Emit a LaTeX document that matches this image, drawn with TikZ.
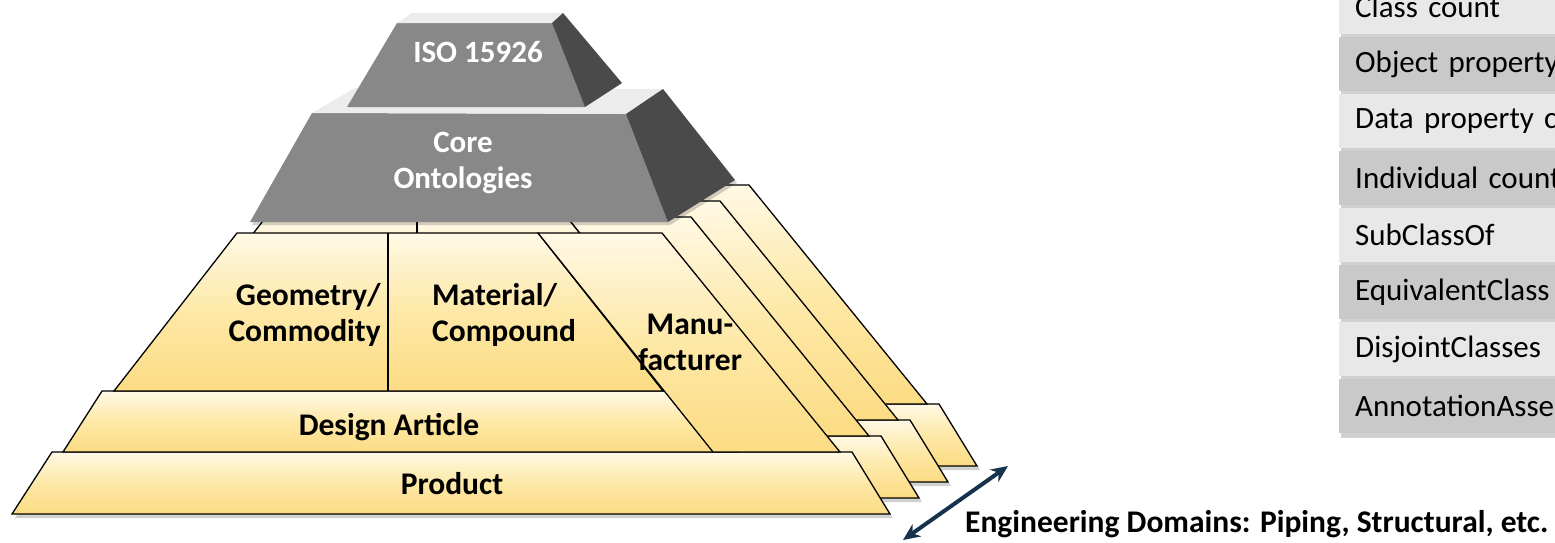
\documentclass[tikz,border=0pt]{standalone}
\usepackage{fontspec}
\setmainfont{Carlito}
\usepackage{tikz}
\usetikzlibrary{arrows.meta}
\definecolor{creamtop}{HTML}{FFF9E6}
\definecolor{creammid}{HTML}{FDE8A6}
\definecolor{goldbot}{HTML}{FCDC84}
\definecolor{grayfront}{HTML}{888888}
\definecolor{grayside}{HTML}{4A4A4A}
\definecolor{graytop}{HTML}{ECECEC}
\definecolor{rowlight}{HTML}{E8E8E8}
\definecolor{rowdark}{HTML}{C9C9C9}
\definecolor{navy}{HTML}{17324D}

\begin{document}
\begin{tikzpicture}[x=1pt,y=-1pt,
  every node/.style={font=\fontsize{31.5}{36}\selectfont\bfseries,align=center,inner sep=0pt},
  slab/.style={draw=black,line width=1.3pt,top color=creamtop,bottom color=goldbot,middle color=creammid},
  castshadow/.style={fill=black,opacity=0.18},
  facet/.style={fill=#1},
  onto/.style={text=white,font=\fontsize{31}{36}\selectfont\bfseries},
  rowbox/.style={fill=#1,anchor=north west,minimum width=262pt,minimum height=54pt,text width=230pt,align=left,inner xsep=16pt,font=\fontsize{31}{36}\selectfont},
  arr/.style={{Stealth[length=17pt,width=15pt]}-{Stealth[length=17pt,width=15pt]},draw=navy,line width=4pt}]
\useasboundingbox (0,0) rectangle (1555,542);

\foreach \k in {3,2,1,0}{
  \begin{scope}[shift={(29*\k,-16*\k)}]
    \fill[castshadow,shift={(3,4)}] (12,514) -- (52,452) -- (63,452) -- (102,391) -- (114,391) -- (237,233) -- (662,233) -- (840,452) -- (852,452) -- (890,514) -- cycle;
    \draw[slab] (12,514) -- (52,452) -- (852,452) -- (890,514) -- cycle;
    \draw[slab] (63,452) -- (102,391) -- (700,391) -- (738,452) -- cycle;
    \draw[slab] (114,391) -- (237,233) -- (538,233) -- (663,391) -- cycle;
    \draw[line width=1.3pt] (388,233) -- (388,391);
    \draw[slab] (538,233) -- (662,233) -- (840,452) -- (713,452) -- cycle;
  \end{scope}
}

\fill[castshadow,shift={(2,3)}] (250,222) -- (312,113) -- (663,89) -- (735,180) -- (668,222) -- cycle;
\fill[facet=grayfront] (250,222) -- (312,113) -- (626,114) -- (668,222) -- cycle;
\fill[facet=graytop] (312,113) -- (355,88) -- (663,89) -- (626,114) -- cycle;
\fill[facet=grayside] (626,114) -- (663,89) -- (735,180) -- (668,222) -- cycle;
\fill[facet=grayfront] (347,107) -- (397,23) -- (552,23) -- (585,107) -- cycle;
\fill[facet=graytop] (397,23) -- (412,13) -- (563,13) -- (552,23) -- cycle;
\fill[facet=grayside] (552,23) -- (563,13) -- (622,83) -- (585,107) -- cycle;

\node[onto] (iso) at (478,52) {ISO 15926};
\node[onto] (core) at (463,163) {Core\\Ontologies};
\node[anchor=east,align=right] (geo) at (381,315) {Geometry/\\Commodity};
\node[anchor=west,align=left] (mat) at (432,315) {Material/\\Compound};
\node (manu) at (690,342) {Manu-\\facturer};
\node (design) at (389,427) {Design Article};
\node (product) at (452,484) {Product};
\node[anchor=base west] (domains) at (965,532) {Engineering Domains: Piping, Structural, etc.};

\begin{scope}
  \clip (1320,0) rectangle (1555,460);
  \fill[castshadow,shift={(2,5)}] (1339,-20) rectangle (1600,433);
  \foreach \t [count=\i] in {Class count,Object property,Data property c,Individual count,SubClassOf,EquivalentClass,DisjointClasses,AnnotationAsse}{
    \ifodd\i \def\rc{rowlight}\else \def\rc{rowdark}\fi
    \node[rowbox=\rc] (row\i) at (1339,{-20+57*(\i-1)}) {\t};
  }
\end{scope}

\coordinate (dlo) at (903,540);
\coordinate (dhi) at (1008,466);
\draw[arr] (dlo) -- (dhi);
\end{tikzpicture}
\end{document}
